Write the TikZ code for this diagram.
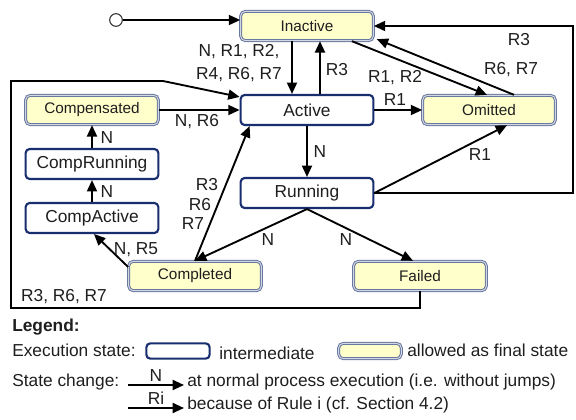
\documentclass[tikz,border=0pt]{standalone}
\usepackage{fontspec}
\setmainfont{Liberation Sans}
\usetikzlibrary{arrows.meta,calc}
\definecolor{navy}{RGB}{24,46,110}
\definecolor{finfill}{RGB}{255,255,204}
\definecolor{finedge}{RGB}{105,120,160}
\definecolor{txt}{RGB}{30,30,30}
\begin{document}
\begin{tikzpicture}[x=0.75pt,y=-0.75pt,
  inter/.style={draw=navy, line width=1.6pt, rounded corners=3pt, fill=white, minimum width=99.5pt, minimum height=22.5pt, inner sep=0pt, font=\fontsize{13}{15}\selectfont, text=txt},
  final/.style={draw=finedge, double=finedge!30, double distance=0.7pt, line width=0.75pt, rounded corners=3.5pt, fill=finfill, minimum width=99.5pt, minimum height=22pt, inner sep=0pt, font=\fontsize{11.5}{14}\selectfont, text=txt},
  arr/.style={-{Triangle[length=8.5pt,width=7.5pt]}, line width=1.4pt, black},
  lbl/.style={font=\fontsize{13}{17}\selectfont, text=txt, inner sep=0pt, align=center},
  leg/.style={font=\fontsize{13}{15}\selectfont, text=txt, inner sep=0pt, anchor=west}]
\useasboundingbox (0,0) rectangle (576,419);

% states
\node[final] (inactive) at (307,26) {Inactive};
\node[inter] (active) at (307,110) {Active};
\node[final] (omitted) at (489,110) {Omitted};
\node[final] (compensated) at (92,110) {Compensated};
\node[inter] (comprunning) at (92,164) {CompRunning};
\node[inter] (compactive) at (92,218) {CompActive};
\node[inter] (running) at (307,193) {Running};
\node[final] (completed) at (195,276) {Completed};
\node[final] (failed) at (420,276) {Failed};
\node[circle, draw=black!80, line width=0.8pt, fill=white, minimum size=9.5pt, inner sep=0pt] (start) at (116,20) {};

% transitions
\draw[arr] (start) -- (start -| inactive.west);
\draw[arr] ($(inactive.south)+(-15,0)$) -- ($(active.north)+(-15,0)$);
\draw[arr] ($(active.north)+(13,0)$) -- ($(inactive.south)+(13,0)$);
\draw[arr] ($(inactive.south east)+(-22,0)$) -- ($(omitted.north)+(-2,0)$);
\draw[arr] ($(omitted.north)+(25,0)$) -- ($(inactive.south east)+(3,-2)$);
\coordinate (rc) at (573,0);
\draw[arr] (running.east) -- (running.east -| rc) -- (inactive.east -| rc) -- (inactive.east);
\draw[arr] (running.east) -- ($(omitted.south)+(18,0)$);
\draw[arr] (active.east) -- (omitted.west);
\draw[arr] (active.south) -- (running.north);
\draw[arr] (running.south) -- (completed.north);
\draw[arr] (running.south) -- ($(failed.north)+(-7,0)$);
\draw[arr] (completed.north) -- ($(active.south west)+(10,0)$);
\draw[arr] ($(completed.west)+(0,-9)$) -- ($(compactive.south)+(2,0)$);
\draw[arr] (compactive.north) -- (comprunning.south);
\draw[arr] (comprunning.north) -- (compensated.south);
\draw[arr] (compensated.east) -- (active.west);
\coordinate (lb) at (11,308);
\coordinate (lt) at (11,81);
\coordinate (lk) at (163,81);
\draw[arr] (failed.south) -- (failed.south |- lb) -- (lb) -- (lt) -- (lk) -- ($(active.north west)+(0,3)$);

% transition labels
\node[lbl] (l1) at (239,63) {N, R1, R2,\\R4, R6, R7};
\node[lbl] (l2) at (337,70) {R3};
\node[lbl] (l3) at (395,78) {R1, R2};
\node[lbl] (l4) at (511,70) {R6, R7};
\node[lbl] (l5) at (519,40) {R3};
\node[lbl] (l6) at (395,100) {R1};
\node[lbl] (l7) at (480,155) {R1};
\node[lbl] (l8) at (320,152) {N};
\node[lbl] (l9) at (268,240) {N};
\node[lbl] (l10) at (346,240) {N};
\node[lbl] (l11) at (207,185) {R3};
\node[lbl] (l12) at (200,205) {R6};
\node[lbl] (l13) at (193,224) {R7};
\node[lbl] (l14) at (136,250) {N, R5};
\node[lbl] (l15) at (107,192) {N};
\node[lbl] (l16) at (107,138) {N};
\node[lbl] (l17) at (197,122) {N, R6};
\node[lbl] (l18) at (64,297) {R3, R6, R7};

% legend
\node[leg, font=\fontsize{13}{15}\selectfont\bfseries] (legend) at (12,327) {Legend:};
\node[leg] (es) at (12,350) {Execution state:};
\node[inter, minimum width=47.5pt, minimum height=11.5pt] (lgi) at (178,351) {};
\node[leg] (lgit) at (219,353) {intermediate};
\node[final, minimum width=47pt, minimum height=11.5pt] (lgf) at (370,351) {};
\node[leg] (lgft) at (407,350) {allowed as final state};
\node[leg] (sc) at (12,382) {State change:};
\coordinate (a1s) at (128,385);
\coordinate (a1e) at (184,385);
\draw[arr] (a1s) -- node[lbl, above=2pt] (n1) {N} (a1e);
\node[leg] (t1) at (187,382) {at normal process execution (i.e. without jumps)};
\coordinate (a2s) at (128,408);
\coordinate (a2e) at (184,408);
\draw[arr] (a2s) -- node[lbl, above=2pt] (n2) {Ri} (a2e);
\node[leg] (t2) at (187,405) {because of Rule i (cf. Section 4.2)};
\end{tikzpicture}
\end{document}
